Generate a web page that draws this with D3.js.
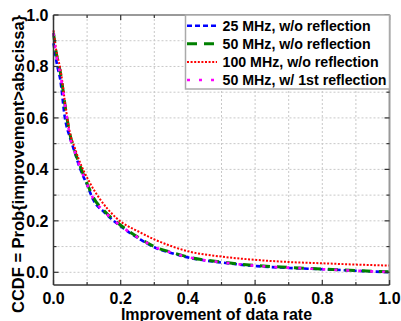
<!DOCTYPE html>
<html>
<head>
<meta charset="utf-8">
<script src="https://cdn.jsdelivr.net/npm/d3@7"></script>
<style>
  body { margin: 0; background: #fff; }
  text { font-family: "Liberation Sans", Arial, sans-serif; font-weight: bold; }
</style>
</head>
<body>
<div id="chart"></div>
<script>
const W = 401, H = 321;

// data
const xs25 = [0, 0.005, 0.01, 0.02, 0.034, 0.05, 0.061, 0.08, 0.1, 0.119, 0.15, 0.208, 0.258, 0.307, 0.35, 0.406, 0.5, 0.605, 0.7, 0.8, 0.9, 1.0];
const y25  = [0.89, 0.85, 0.81, 0.75, 0.60, 0.52, 0.475, 0.40, 0.34, 0.28, 0.235, 0.171, 0.128, 0.093, 0.075, 0.056, 0.038, 0.024, 0.017, 0.012, 0.006, 0.0];
const xs50 = [0, 0.005, 0.01, 0.02, 0.04, 0.05, 0.061, 0.08, 0.1, 0.119, 0.15, 0.208, 0.258, 0.307, 0.35, 0.406, 0.5, 0.605, 0.7, 0.8, 0.9, 1.0];
const y50  = [0.93, 0.88, 0.84, 0.78, 0.60, 0.53, 0.48, 0.41, 0.345, 0.29, 0.24, 0.175, 0.131, 0.096, 0.078, 0.058, 0.040, 0.026, 0.019, 0.013, 0.007, 0.002];
const xs100 = [0, 0.005, 0.01, 0.019, 0.041, 0.051, 0.059, 0.075, 0.109, 0.138, 0.188, 0.258, 0.3, 0.35, 0.406, 0.5, 0.605, 0.7, 0.8, 0.9, 1.0];
const y100  = [0.94, 0.89, 0.85, 0.80, 0.60, 0.53, 0.50, 0.44, 0.346, 0.285, 0.21, 0.155, 0.128, 0.102, 0.08, 0.061, 0.048, 0.040, 0.035, 0.030, 0.026];
const xsRefl = xs50;
const yRefl  = [0.93, 0.87, 0.83, 0.77, 0.60, 0.52, 0.478, 0.405, 0.342, 0.285, 0.238, 0.173, 0.13, 0.095, 0.077, 0.057, 0.039, 0.025, 0.018, 0.012, 0.006, 0.001];

const seriesNames = ["25 MHz, w/o reflection", "50 MHz, w/o reflection", "100 MHz, w/o reflection", "50 MHz, w/ 1st reflection"];
const xTicks = [0, 0.2, 0.4, 0.6, 0.8, 1.0];
const yTicks = [0, 0.2, 0.4, 0.6, 0.8, 1.0];

const series = [
  {name: seriesNames[0], xs: xs25, ys: y25, color: "#0000ff", dash: "5,3", w: 2.6},
  {name: seriesNames[1], xs: xs50, ys: y50, color: "#008000", dash: "10,7", w: 3},
  {name: seriesNames[2], xs: xs100, ys: y100, color: "#ff0000", dash: "2,1.6", w: 2},
  {name: seriesNames[3], xs: xsRefl, ys: yRefl, color: "#ff00ff", dash: "3,9", w: 2.6}
];

const svg = d3.select("#chart").append("svg")
  .attr("width", W).attr("height", H);

const x = d3.scaleLinear().domain([0, 1]).range([53.5, 389.5]);
const y = d3.scaleLinear().domain([0, 1]).range([272.3, 15]);
const y0 = 285, y1 = 15, x0 = 53.5, x1 = 389.5;

// grid
const grid = svg.append("g").attr("stroke", "#c8c8c8").attr("stroke-dasharray", "2,2").attr("stroke-width", 1);
d3.range(1, 10).map(d => d / 10).forEach(v => {
  grid.append("line").attr("x1", x(v)).attr("x2", x(v)).attr("y1", y0).attr("y2", y1);
});
d3.range(0, 10).map(d => d / 10).forEach(v => {
  grid.append("line").attr("x1", x0).attr("x2", x1).attr("y1", y(v)).attr("y2", y(v));
});

// curves
const line = d3.line().x(d => x(d[0])).y(d => y(d[1])).curve(d3.curveMonotoneX);
series.forEach(s => {
  svg.append("path")
    .datum(d3.zip(s.xs, s.ys))
    .attr("fill", "none")
    .attr("stroke", s.color)
    .attr("stroke-width", s.w)
    .attr("stroke-dasharray", s.dash)
    .attr("d", line);
});

// frame
svg.append("line").attr("x1", x0).attr("x2", x1).attr("y1", y1).attr("y2", y1).attr("stroke", "#999").attr("stroke-width", 2);
svg.append("line").attr("x1", x1).attr("x2", x1).attr("y1", y1).attr("y2", y0).attr("stroke", "#999").attr("stroke-width", 2);
svg.append("line").attr("x1", x0).attr("x2", x1).attr("y1", y0).attr("y2", y0).attr("stroke", "#333").attr("stroke-width", 1.5);
svg.append("line").attr("x1", x0).attr("x2", x0).attr("y1", y1).attr("y2", y0).attr("stroke", "#333").attr("stroke-width", 1.5);

// ticks (inward)
const tk = svg.append("g").attr("stroke", "#333").attr("stroke-width", 1.2);
d3.range(0, 11).map(d => d / 10).forEach((v, i) => {
  const len = i % 2 === 0 ? 5 : 3;
  tk.append("line").attr("x1", x(v)).attr("x2", x(v)).attr("y1", y0).attr("y2", y0 - len);
  tk.append("line").attr("x1", x(v)).attr("x2", x(v)).attr("y1", y1).attr("y2", y1 + len);
  tk.append("line").attr("x1", x0).attr("x2", x0 + len).attr("y1", y(v)).attr("y2", y(v));
  tk.append("line").attr("x1", x1).attr("x2", x1 - len).attr("y1", y(v)).attr("y2", y(v));
});

// tick labels
svg.append("g").selectAll("text").data(xTicks).join("text")
  .attr("x", d => x(d)).attr("y", 303.5)
  .attr("text-anchor", "middle").attr("font-size", 16)
  .text(d => d.toFixed(1));
svg.append("g").selectAll("text").data(yTicks).join("text")
  .attr("x", 48.5).attr("y", d => y(d) + 6)
  .attr("text-anchor", "end").attr("font-size", 16)
  .text(d => d.toFixed(1));

// axis titles
svg.append("text").attr("x", x(0.5) - 5).attr("y", 319.5)
  .attr("text-anchor", "middle").attr("font-size", 16)
  .text("Improvement of data rate");
svg.append("text")
  .attr("transform", "translate(24," + 164 + ") rotate(-90)")
  .attr("text-anchor", "middle").attr("font-size", 16.5)
  .text("CCDF = Prob{improvement>abscissa}");

// legend
const lg = svg.append("g");
lg.append("rect").attr("x", 185.5).attr("y", 15).attr("width", 204).attr("height", 74)
  .attr("fill", "#fff").attr("stroke", "#aaa").attr("stroke-width", 1.5);
series.forEach((s, i) => {
  const ly = 25.7 + i * 18.1;
  lg.append("line").attr("x1", 187).attr("x2", 217).attr("y1", ly).attr("y2", ly)
    .attr("stroke", s.color).attr("stroke-width", s.w).attr("stroke-dasharray", s.dash);
  lg.append("text").attr("x", 222.5).attr("y", ly + 5).attr("font-size", 14.2).text(s.name);
});
</script>
</body>
</html>
